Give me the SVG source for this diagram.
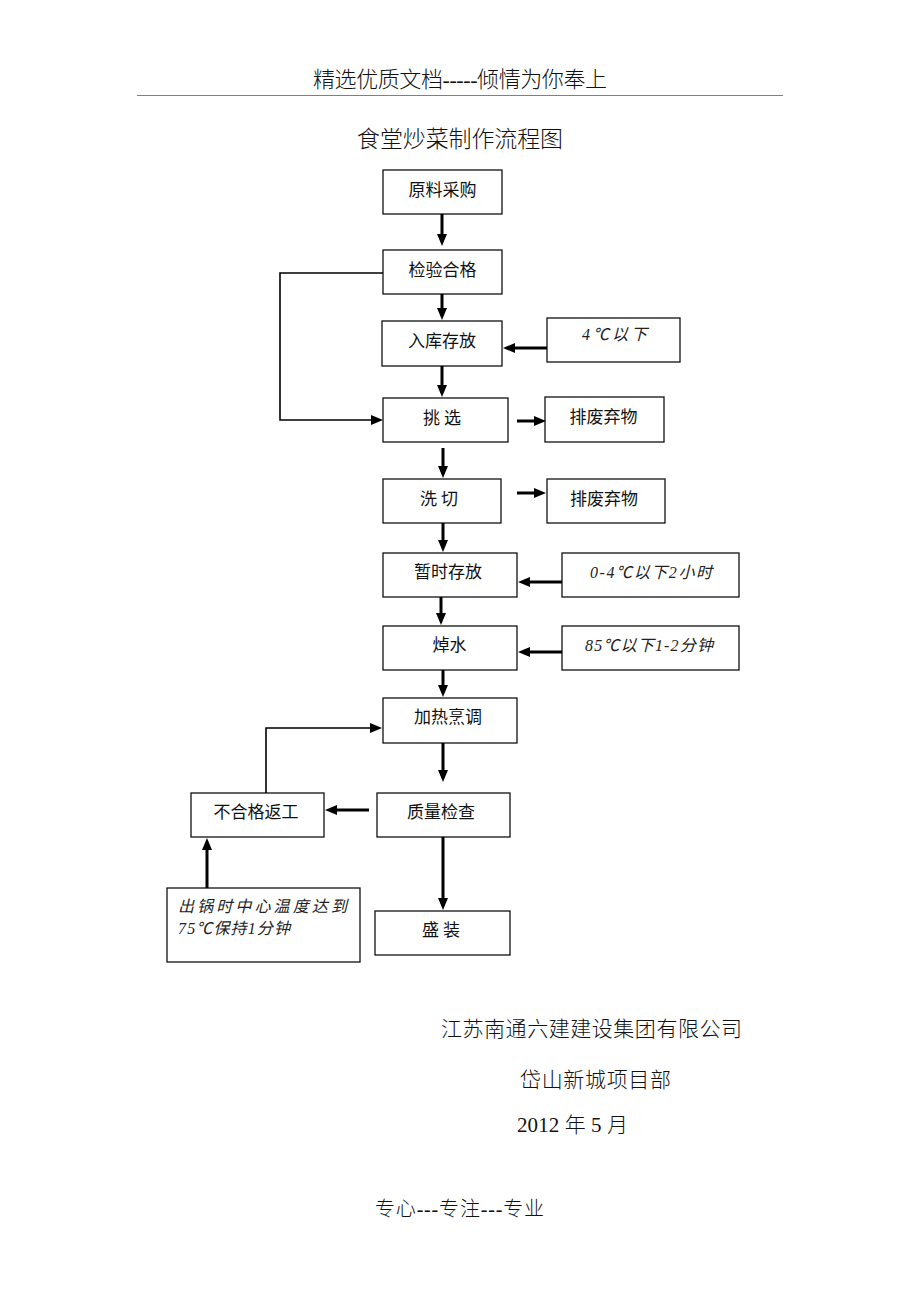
<svg xmlns="http://www.w3.org/2000/svg" width="920" height="1302" viewBox="0 0 920 1302">
<style>
.doc{font-family:"Liberation Serif","Noto Sans CJK SC",serif;font-weight:300;fill:#111}
.box{fill:#fff;stroke:#111;stroke-width:1.3}
.lbl{font-family:"Noto Sans CJK SC","Liberation Sans",sans-serif;font-size:17px;fill:#111;text-anchor:middle}
.note{font-family:"Liberation Serif","Noto Sans CJK SC",serif;font-style:italic;font-size:16px;fill:#222}
.thick{stroke:#000;stroke-width:3;fill:none;marker-end:url(#ah)}
.thin{stroke:#000;stroke-width:1.6;fill:none;marker-end:url(#ah)}
</style>
<defs>
<marker id="ah" markerUnits="userSpaceOnUse" markerWidth="12" markerHeight="10" refX="2" refY="5" orient="auto">
<path d="M0,0 L12,5 L0,10 z" fill="#000"/>
</marker>
</defs>
<rect width="920" height="1302" fill="#fff"/>

<g id="header">
<text class="doc" x="313" y="87" font-size="22" textLength="294">精选优质文档-----倾情为你奉上</text>
<line x1="137" y1="95.5" x2="783" y2="95.5" stroke="#808080" stroke-width="1.2"/>
<text class="doc" x="357" y="147" font-size="23" textLength="206">食堂炒菜制作流程图</text>
</g>

<g id="n-purchase"><rect class="box" x="383" y="170" width="119" height="44"/><text class="lbl" x="442.5" y="196">原料采购</text></g>
<g id="n-inspect"><rect class="box" x="383" y="250" width="119" height="44"/><text class="lbl" x="442.5" y="276">检验合格</text></g>
<g id="n-store"><rect class="box" x="382" y="321" width="120" height="45"/><text class="lbl" x="442" y="347">入库存放</text></g>
<g id="n-temp4"><rect class="box" x="547" y="318" width="133" height="44"/><text class="note" x="582" y="340" textLength="65">4℃以下</text></g>
<g id="n-select"><rect class="box" x="383" y="398" width="125" height="44"/><text class="lbl" x="442" y="424">挑  选</text></g>
<g id="n-waste1"><rect class="box" x="545" y="397" width="119" height="45"/><text class="lbl" x="603.5" y="423">排废弃物</text></g>
<g id="n-wash"><rect class="box" x="383" y="479" width="118" height="44"/><text class="lbl" x="439" y="505">洗  切</text></g>
<g id="n-waste2"><rect class="box" x="547" y="479" width="118" height="44"/><text class="lbl" x="604" y="505">排废弃物</text></g>
<g id="n-hold"><rect class="box" x="383" y="553" width="134" height="44"/><text class="lbl" x="448" y="578">暂时存放</text></g>
<g id="n-hold-cond"><rect class="box" x="562" y="553" width="177" height="44"/><text class="note" x="590" y="578" textLength="122">0-4℃以下2小时</text></g>
<g id="n-blanch"><rect class="box" x="383" y="626" width="134" height="44"/><text class="lbl" x="449.5" y="651">焯水</text></g>
<g id="n-blanch-cond"><rect class="box" x="562" y="626" width="177" height="44"/><text class="note" x="585" y="651" textLength="128">85℃以下1-2分钟</text></g>
<g id="n-cook"><rect class="box" x="383" y="698" width="134" height="45"/><text class="lbl" x="448" y="723">加热烹调</text></g>
<g id="n-qc"><rect class="box" x="377" y="793" width="133" height="44"/><text class="lbl" x="441" y="818">质量检查</text></g>
<g id="n-rework"><rect class="box" x="191" y="793" width="133" height="44"/><text class="lbl" x="256" y="818">不合格返工</text></g>
<g id="n-plate"><rect class="box" x="375" y="911" width="135" height="44"/><text class="lbl" x="441" y="936">盛  装</text></g>
<g id="n-core-temp"><rect class="box" x="167" y="888" width="193" height="74"/>
<text class="note" x="178" y="912" textLength="169">出锅时中心温度达到</text>
<text class="note" x="178" y="934" textLength="112">75℃保持1分钟</text></g>

<g id="connectors">
<line class="thick" x1="442" y1="214" x2="442" y2="236"/>
<line class="thick" x1="442" y1="294" x2="442" y2="310"/>
<line class="thick" x1="547" y1="348" x2="513" y2="348"/>
<line class="thick" x1="442" y1="366" x2="442" y2="387"/>
<polyline class="thin" points="383,273 280,273 280,420 373,420"/>
<line class="thick" x1="517" y1="421" x2="536" y2="421"/>
<line class="thick" x1="443" y1="448" x2="443" y2="468"/>
<line class="thick" x1="517" y1="493" x2="536" y2="493"/>
<line class="thick" x1="443" y1="523" x2="443" y2="542"/>
<line class="thick" x1="562" y1="582" x2="528" y2="582"/>
<line class="thick" x1="441" y1="597" x2="441" y2="615"/>
<line class="thick" x1="562" y1="652" x2="528" y2="652"/>
<line class="thick" x1="443" y1="670" x2="443" y2="687"/>
<polyline class="thin" points="266,793 266,728 372,728"/>
<line class="thick" x1="443" y1="743" x2="443" y2="772"/>
<line class="thick" x1="369" y1="810" x2="335" y2="810"/>
<line class="thick" x1="443" y1="837" x2="443" y2="900"/>
<line class="thick" x1="207" y1="888" x2="207" y2="848"/>
</g>

<g id="footer">
<text class="doc" x="441" y="1036" font-size="21" textLength="301">江苏南通六建建设集团有限公司</text>
<text class="doc" x="520" y="1087" font-size="21" textLength="151">岱山新城项目部</text>
<text class="doc" x="517" y="1132" font-size="21" textLength="111">2012 年 5 月</text>
<text class="doc" x="375" y="1216" font-size="20" textLength="169">专心---专注---专业</text>
</g>
</svg>
